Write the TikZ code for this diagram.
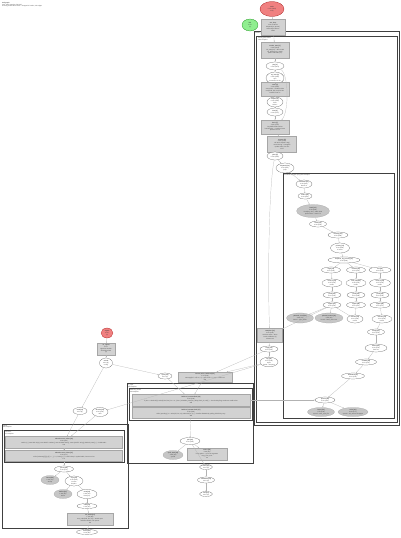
\documentclass[tikz,border=0pt]{standalone}
\usepackage{fontspec}
\setmainfont{Liberation Sans}
\usetikzlibrary{shapes.geometric,arrows.meta}
\begin{document}
\begin{tikzpicture}[x=1pt,y=-1pt,
  every node/.style={font=\fontsize{1.5}{1.8}\selectfont, align=center, inner sep=0pt, text=black!75},
  sz/.style 2 args={minimum width=#1pt, minimum height=#2pt},
  gbox/.style={rectangle, draw=gray!70, fill=gray!35, line width=0.2pt},
  wov/.style={ellipse, draw=black!65, fill=white, line width=0.2pt},
  gov/.style={ellipse, draw=gray!70, fill=gray!45, line width=0.2pt},
  rov/.style={ellipse, draw=red!60!black, fill={rgb,255:red,240;green,128;blue,128}, line width=0.2pt},
  grov/.style={ellipse, draw=green!50!black, fill={rgb,255:red,144;green,238;blue,144}, line width=0.2pt},
  clus/.style={draw=black!75, line width=0.25pt},
  clab/.style={anchor=north west, align=left, font=\fontsize{1.5}{1.8}\selectfont},
  edge/.style={draw=gray!60, line width=0.2pt, -{Stealth[length=1.2pt,width=0.9pt]}}
]
\fill[white] (0,0) rectangle (400,538);
\useasboundingbox (0,0) rectangle (400,538);

% title
\node[clab] (title) at (2,2) {\textbf{Call graph}\\ total: 1842 samples (100.0\%)\\ showing nodes above 0.5\% -- dropped 37 nodes, 112 edges};

% clusters
\draw[clus] (254,31) rectangle (399,425);
\node[clab] (c1lab) at (255,32) {module\_core\\ };
\draw[clus] (256.5,36) rectangle (397,422);
\node[clab] (c2lab) at (258,37) {thread\_pool.worker\\ 1204 samples};
\draw[clus] (283,173) rectangle (394.5,418);
\node[clab] (c3lab) at (284,174) {scheduler.dispatch (loop) 812 samples};
\draw[clus] (127,383) rectangle (253,463);
\node[clab] (c4lab) at (128,384) {io\_layer\\ 402 samples};
\draw[clus] (129,388) rectangle (252,420);
\node[clab] (c5lab) at (130,389) {buffered\_stream\\ 318 samples};
\draw[clus] (2,424) rectangle (128,528);
\node[clab] (c6lab) at (3,425) {parser\\ 226 samples};
\draw[clus] (4,430) rectangle (124,462);
\node[clab] (c7lab) at (5,431) {tokenizer\\ 171 samples};

% top
\node[rov, sz={24}{15}] (R1) at (272,9) {\textbf{main}\\ 0.2\% (1842)\\ entry};
\node[grov, sz={16}{12}] (G1) at (250,25) {\textbf{idle}\\ 0.0\%\\ (3)};
\node[gbox, sz={24}{16}] (A0) at (273,27) {\textbf{run\_loop}\\ 1.1\% of 99.8\%\\ dispatch(ctx, queue)\\ wait/notify 1203 ms\\ 1838};

% right column
\node[gbox, sz={28}{16}] (A1) at (275,50) {\textbf{worker\_start [1]}\\ 0.4\% (1204)\\ init\_state(ctx) -- alloc 2 MB\\ set\_affinity(core, mask)\\ spawn 8 threads (ok)};
\node[wov, sz={18}{8}] (A2) at (275,66) {\textbf{pop [2]}\\ 0.2\% (1201)};
\node[wov, sz={18}{12}] (A3) at (275,78) {\textbf{try\_lock [3]}\\ 0.3\% (1198)\\ spin\\ contention 12.4\%};
\node[gbox, sz={28}{14}] (A4) at (275,89) {\textbf{steal [4]}\\ 2.1\% (1190)\\ scan peers -- random victim\\ cas(head, old, new) fail 4\%\\ backoff 1--64 us};
\node[wov, sz={16}{10}] (A5) at (275,102) {\textbf{unpark [5]}\\ 0.1\% (1180)\\ futex\\ wake 1};
\node[wov, sz={16}{8}] (A6) at (275,112) {\textbf{next [6]}\\ 0.1\% (1177)};
\node[gbox, sz={28}{14}] (A7) at (275,127) {\textbf{fetch [7]}\\ 1.4\% (1175)\\ ring buffer 4096 entries\\ load acquire -- 2 cache misses\\ prefetch next 4};
\node[gbox, sz={29}{16}] (A8) at (282,144) {\textbf{execute [8]}\\ 3.0\% (1170)\\ call task-\textgreater{}fn(task-\textgreater{}arg)\\ record timing -- histogram\\ update stats, free slot\\ 1170};
\node[wov, sz={16}{8}] (A9) at (275,156) {\textbf{yield [9]}\\ 0.1\% (1166)};
\node[wov, sz={18}{10}] (A10) at (285,168) {\textbf{dispatch [10]}\\ 0.2\% (812)\\ jump};

% inner loop cluster
\node[wov, sz={16}{8}] (B1) at (304,184) {\textbf{schedule [11]}\\ 0.4\% (812)\\ branch 3};
\node[wov, sz={14}{6}] (B2) at (305,196) {\textbf{select [12]}\\ 0.2\% (810)};
\node[gov, sz={33}{13}] (B3) at (313,211) {\textbf{hash [13]}\\ 6.3\% (806)\\ fnv1a(key, len) -- table 1024\\ probe linear -- load 0.71};
\node[wov, sz={17}{6}] (B4) at (318,224) {\textbf{route [14]}\\ 0.3\% (690)};
\node[wov, sz={20}{6}] (B5) at (338,235) {\textbf{classify [15]}\\ 0.5\% (688)};
\node[wov, sz={19}{10}] (B6) at (340,248) {\textbf{priority [16]}\\ 0.2\% (684)\\ 3 levels};
\node[wov, sz={32}{6}] (B7) at (344,260) {\textbf{enqueue\_by\_priority [17]}\\ 0.3\% (680)};

\node[wov, sz={19}{6}] (C1) at (331,270) {\textbf{high [18]}\\ 0.1\% (226)};
\node[wov, sz={19}{6}] (D1) at (356,270) {\textbf{normal [19]}\\ 0.1\% (291)};
\node[wov, sz={22}{6}] (E1) at (380,270) {\textbf{low [20]}\\ 0.1\% (160)};
\node[wov, sz={20}{8}] (C2) at (332,283) {\textbf{lock\_hi [21]}\\ 0.2\% (225)\\ mutex};
\node[wov, sz={20}{8}] (D2) at (356,283) {\textbf{lock\_nm [22]}\\ 0.3\% (290)\\ mutex};
\node[wov, sz={21}{8}] (E2) at (380,283) {\textbf{lock\_lo [23]}\\ 0.1\% (159)\\ mutex};
\node[wov, sz={18}{6}] (C3) at (332,295) {\textbf{push [24]}\\ 0.1\% (224)};
\node[wov, sz={18}{6}] (D3) at (356,295) {\textbf{push [25]}\\ 0.1\% (288)};
\node[wov, sz={18}{6}] (E3) at (380,295) {\textbf{push [26]}\\ 0.1\% (158)};
\node[wov, sz={18}{6}] (C4) at (332,305) {\textbf{signal [27]}\\ 0.2\% (223)};
\node[wov, sz={19}{6}] (D4) at (356,305) {\textbf{signal [28]}\\ 0.1\% (287)};
\node[wov, sz={20}{6}] (E4) at (380,305) {\textbf{signal [29]}\\ 0.1\% (157)};
\node[gov, sz={27}{10}] (F1) at (300,318) {\textbf{pthread\_cond [30]}\\ 4.2\% (78)\\ kernel -- futex\_wake};
\node[gov, sz={28}{10}] (F2) at (329,318) {\textbf{pthread\_mutex [31]}\\ 5.0\% (92)\\ kernel -- futex\_wait 2 ms};
\node[wov, sz={16}{8}] (D5) at (355,319) {\textbf{release [32]}\\ 0.1\% (330)\\ unlock};
\node[wov, sz={20}{8}] (E5) at (382,319) {\textbf{release [33]}\\ 0.1\% (156)\\ unlock};
\node[wov, sz={17}{6}] (E6) at (376,332) {\textbf{notify [34]}\\ 0.1\% (155)};
\node[wov, sz={22}{8}] (E7) at (376,348) {\textbf{batch [35]}\\ 0.2\% (154)\\ flush 32};
\node[wov, sz={21}{6}] (E8) at (366,362) {\textbf{commit [36]}\\ 0.1\% (152)};
\node[wov, sz={23}{6}] (E9) at (353,376) {\textbf{writeback [37]}\\ 0.1\% (150)};
\node[wov, sz={20}{6}] (E10) at (325,400) {\textbf{persist [38]}\\ 0.2\% (412)};
\node[gov, sz={27}{9}] (GG1) at (321,412) {\textbf{fsync [39]}\\ 7.9\% (146)\\ syscall -- ext4\_sync\_file};
\node[gov, sz={30}{9}] (GG2) at (353,412) {\textbf{write [40]}\\ 9.6\% (177)\\ syscall -- vfs\_write 4 KB pages};

% left column in big cluster
\node[gbox, sz={25}{14}] (H1) at (270,335) {\textbf{complete [41]}\\ 0.6\% (640)\\ set future state -- done\\ invoke callbacks (2)\\ release refs};
\node[wov, sz={18}{6}] (H2) at (269,349) {\textbf{reply [42]}\\ 0.1\% (402)};
\node[wov, sz={18}{9}] (H3) at (269,362) {\textbf{log [43]}\\ 0.1\% (230)\\ async\\ format + enqueue};

% middle
\node[rov, sz={12}{10}] (R2) at (107,333) {\textbf{signal}\\ 0.0\%\\ (4)};
\node[gbox, sz={18}{12}] (M0) at (106,349) {\textbf{on\_signal}\\ 0.1\%\\ sigaction handler\\ SIGHUP reload\\ (4)};
\node[wov, sz={13}{10}] (M1) at (106,363) {\textbf{reload}\\ 0.0\% (4)\\ config};
\node[wov, sz={14}{6}] (M2) at (165,376) {\textbf{open [44]}\\ 0.1\% (6)};
\node[gbox, sz={54}{10}] (M3) at (205,377) {\textbf{stream\_write\_buffered [45]}\\ 1.7\% (632)\\ memcpy(buf + off, src, n) -- grow if off + n \textgreater{} cap -- realloc x2\\ 632};
\node[gbox, sz={118}{12}] (M4) at (191,400) {\textbf{buffered\_stream.flush [46]}\\ 0.9\% (636)\\ if (len \textgreater{}= threshold) \{ write(fd, buf, len); len = 0; \} else \{ schedule\_timer(ms\_delay, flush\_cb, self); \} -- checks dirty flag, coalesces small writes\\ 636};
\node[gbox, sz={118}{11}] (M5) at (191,413) {\textbf{buffered\_stream.drain [47]}\\ 0.4\% (318)\\ while (pending) \{ n = writev(fd, iov, cnt); advance(iov, n); \} -- handles EAGAIN by polling, EINTR by retry\\ 318};
\node[wov, sz={20}{7}] (M6) at (190,441) {\textbf{poll [48]}\\ 0.2\% (318)};
\node[gov, sz={20}{9}] (M7) at (173,455) {\textbf{epoll\_wait [49]}\\ 3.4\% (63)\\ syscall};
\node[gbox, sz={40}{12}] (M8) at (207,454) {\textbf{writev [50]}\\ 5.2\% (96)\\ iovec gather -- up to 16 segments\\ copy\_from\_user\\ 96};
\node[wov, sz={13}{5}] (M9) at (206,467) {\textbf{close [51]}\\ 0.1\% (8)};
\node[wov, sz={17}{6}] (M10) at (206,480) {\textbf{shutdown [52]}\\ 0.0\% (8)};
\node[wov, sz={13}{5}] (M11) at (206,494) {\textbf{exit [53]}\\ 0.0\% (8)};

% left cluster
\node[wov, sz={14}{7}] (L0a) at (80,411) {\textbf{read [54]}\\ 0.1\% (4)};
\node[wov, sz={16}{9}] (L0b) at (100,412) {\textbf{decode [55]}\\ 0.2\% (226)\\ utf-8};
\node[gbox, sz={117}{12}] (L1) at (64,442) {\textbf{tokenizer.next\_token [56]}\\ 2.8\% (226)\\ switch (c) \{ case WS: skip(); case DIGIT: number(); case ALPHA: ident(); case QUOTE: string(); default: punct(); \} -- lookahead 1\\ 226};
\node[gbox, sz={117}{11}] (L2) at (64,456) {\textbf{tokenizer.scan\_ident [57]}\\ 1.3\% (171)\\ while (isalnum(p[i]) || p[i] == '\_') i++; intern(p, i) -- hash lookup in symbol table, insert on miss\\ 171};
\node[wov, sz={19}{6}] (L3) at (64,469) {\textbf{parse [58]}\\ 0.3\% (170)};
\node[gov, sz={18}{9}] (L4) at (50,480) {\textbf{intern [59]}\\ 2.2\% (41)\\ strcmp};
\node[wov, sz={18}{10}] (L5) at (74,481) {\textbf{expr [60]}\\ 0.4\% (128)\\ recurse\\ depth 6};
\node[gov, sz={18}{9}] (L6) at (63,494) {\textbf{malloc [61]}\\ 1.9\% (35)\\ arena};
\node[wov, sz={20}{9}] (L7) at (87,494) {\textbf{term [62]}\\ 0.3\% (92)\\ binary op};
\node[wov, sz={20}{5}] (L8) at (87,506) {\textbf{emit [63]}\\ 0.1\% (90)};
\node[gbox, sz={46}{12}] (L9) at (90,519) {\textbf{ast\_build [64]}\\ 1.2\% (88)\\ new\_node(kind, lhs, rhs) -- attach span\\ validate children, link parent\\ 88};
\node[wov, sz={21}{5}] (L10) at (87,532) {\textbf{finish [65]}\\ 0.0\% (86)};

% edges
\foreach \a/\b in {R1/A0, A0/A1, A1/A2, A2/A3, A3/A4, A4/A5, A5/A6, A6/A7, A7/A8, A8/A9, A9/A10,
  A10/B1, B1/B2, B2/B3, B3/B4, B4/B5, B5/B6, B6/B7, B7/C1, B7/D1, B7/E1,
  C1/C2, C2/C3, C3/C4, D1/D2, D2/D3, D3/D4, E1/E2, E2/E3, E3/E4,
  C4/F1, C4/F2, C4/D5, D4/D5, E4/E5, E5/E6, E6/E7, E7/E8, E8/E9, E9/E10, E10/GG1, E10/GG2,
  C4/H1, H1/H2, H2/H3, H2/M3, H3/M3, H3/L0b,
  R2/M0, M0/M1, M1/M2, M1/L0a, M2/M4, M3/M4, M4/M5, M4/E10, M5/M6, M6/M7, M6/M8, M6/M9, M9/M10, M10/M11,
  L0a/L1, L0b/L1, L1/L2, L2/L3, L3/L4, L3/L5, L5/L6, L5/L7, L7/L8, L8/L9, L9/L10}
  \draw[edge] (\a) -- (\b);
\draw[edge] (A2) .. controls (289,74) and (289,112) .. (A7);
\draw[edge] (A9) .. controls (268,190) and (268,300) .. (H1);
\end{tikzpicture}
\end{document}
